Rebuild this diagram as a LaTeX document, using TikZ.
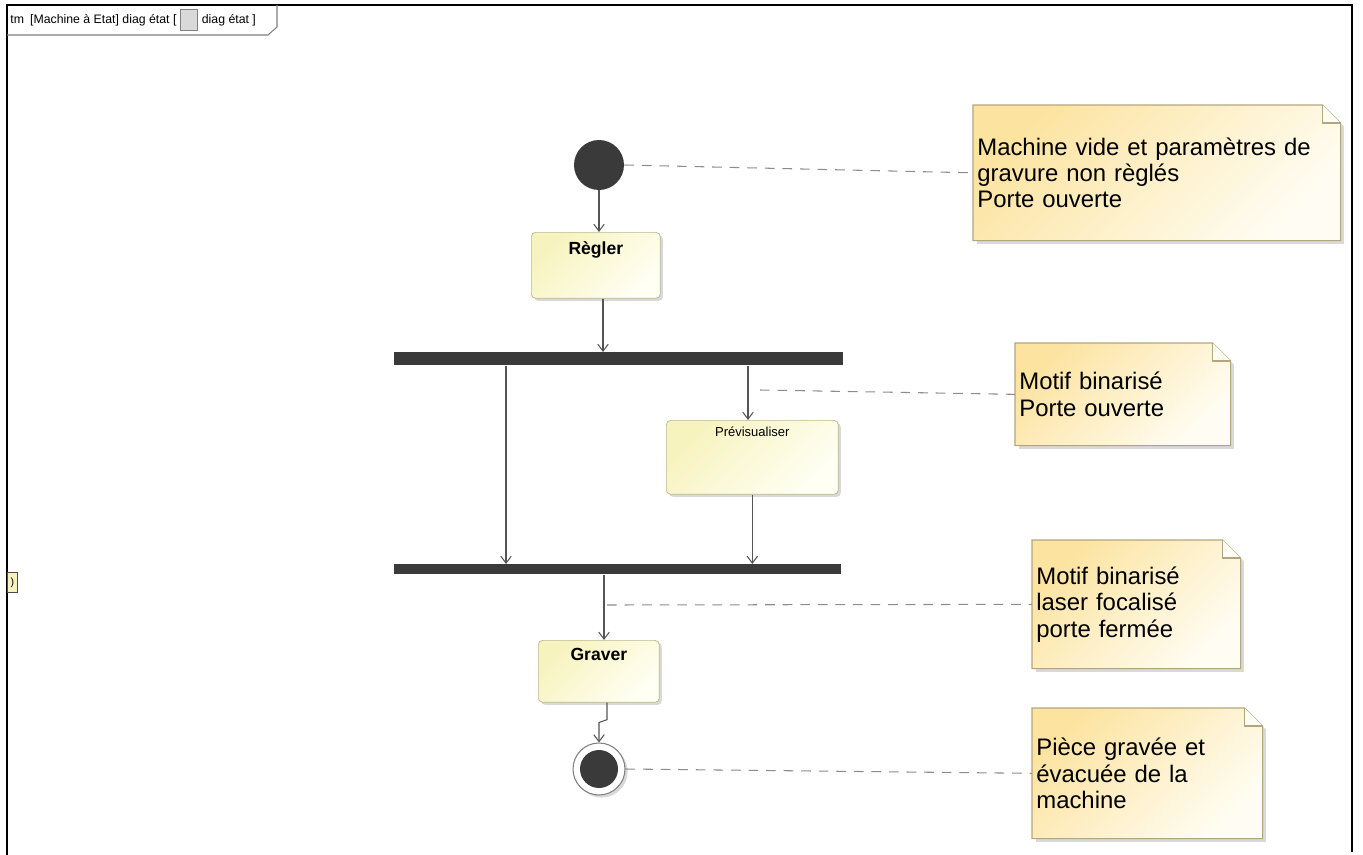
\documentclass[tikz,border=0pt]{standalone}
\usepackage{fontspec}
\setmainfont{Liberation Sans}
\usetikzlibrary{positioning,arrows.meta,shadows,calc}

\definecolor{bardark}{HTML}{3A3A3A}
\definecolor{edgegray}{HTML}{555555}
\definecolor{linkgray}{HTML}{8C8C8C}
\definecolor{stateA}{HTML}{F7F3BE}
\definecolor{stateB}{HTML}{FFFFF4}
\definecolor{stateline}{HTML}{B8B88C}
\definecolor{noteA}{HTML}{FCE3A0}
\definecolor{noteB}{HTML}{FFFDF3}
\definecolor{noteline}{HTML}{B3A67E}

\tikzset{
  statebox/.style={anchor=north west,draw=stateline,rounded corners=2.5pt,inner sep=0pt,
    top color=stateA,bottom color=stateB,shading angle=45,
    drop shadow={shadow xshift=1.5pt,shadow yshift=-1.5pt,opacity=0.3}},
  statelabel/.style={anchor=north,inner sep=0pt,font=\bfseries\fontsize{10}{12}\selectfont},
  barnode/.style={anchor=north west,fill=bardark,inner sep=0pt},
  notebox/.style={anchor=north west,inner xsep=0.08cm,inner ysep=0pt,align=left,
    top color=noteA,bottom color=noteB,shading angle=45,
    font=\fontsize{13.6}{15}\selectfont,
    drop shadow={shadow xshift=2pt,shadow yshift=-2pt,opacity=0.3}},
  flow/.style={draw=edgegray,line width=0.6pt,-{Straight Barb[length=4pt,width=6pt]}},
  notelink/.style={draw=linkgray,line width=0.6pt,dash pattern=on 5.5pt off 4.5pt}
}

\begin{document}
\begin{tikzpicture}[x=0.02cm,y=-0.02cm]
  \useasboundingbox (0,0) rectangle (1363,855);
  %% frame and header tab
  \draw[line width=1.6pt] (7,855) -- (7,5) -- (1352,5) -- (1352,852);
  \draw[draw=gray,line width=0.6pt] (7,35) -- (268,35) -- (277,27) -- (277,5);
  \node[anchor=west,inner sep=0pt,font=\fontsize{7}{8}\selectfont] (hdrA) at (10,20) {tm\enspace[Machine à Etat] diag état [};
  \node[right=2pt of hdrA,draw=gray,fill=gray!30,minimum width=0.34cm,minimum height=0.42cm,inner sep=0pt] (hdricon) {};
  \node[right=2pt of hdricon,inner sep=0pt,font=\fontsize{7}{8}\selectfont] (hdrB) {diag état ]};
  \node[anchor=north west,draw=black!70,fill=stateA,minimum width=0.2cm,minimum height=0.4cm,inner sep=0pt,font=\fontsize{6}{6}\selectfont] (stub) at (7,572) {)};

  %% states
  \node[circle,fill=bardark,minimum size=1cm,inner sep=0pt] (init) at (599,165) {};
  \node[statebox,minimum width=2.58cm,minimum height=1.32cm] (regler) at (531,232) {};
  \node[statelabel] (reglerlbl) at ([yshift=-5.5pt]regler.north) {Règler};
  \node[barnode,minimum width=8.98cm,minimum height=0.26cm] (fork) at (394,352) {};
  \node[statebox,minimum width=3.44cm,minimum height=1.48cm] (prev) at (666,420) {};
  \node[anchor=north,inner sep=0pt,font=\fontsize{7.4}{9}\selectfont] (prevlbl) at ([yshift=-3.5pt]prev.north) {Prévisualiser};
  \node[barnode,minimum width=8.94cm,minimum height=0.2cm] (join) at (394,564) {};
  \node[statebox,minimum width=2.42cm,minimum height=1.24cm] (graver) at (538,640) {};
  \node[statelabel] (graverlbl) at ([yshift=-4.5pt]graver.north) {Graver};
  \node[circle,draw=gray,line width=0.6pt,fill=white,minimum size=1.04cm,inner sep=0pt,
    drop shadow={shadow xshift=1.5pt,shadow yshift=-1.5pt,opacity=0.3}] (final) at (599,769) {};
  \node[circle,fill=bardark,minimum size=0.76cm,inner sep=0pt] (finalin) at (final.center) {};

  %% lanes
  \coordinate (lane1) at (603,0);
  \coordinate (lbranch) at (506,0);
  \coordinate (rbranch) at (748,0);
  \coordinate (lane2) at (604,0);
  \coordinate (lane3) at (607,0);

  %% transitions
  \draw[flow] (init.south) -- (init.south |- regler.north);
  \draw[flow] (regler.south -| lane1) -- (fork.north -| lane1);
  \draw[flow] (fork.south -| lbranch) -- (join.north -| lbranch);
  \draw[flow] (fork.south -| rbranch) -- (prev.north -| rbranch);
  \draw[flow] (prev.south) -- (prev.south |- join.north);
  \draw[flow] (join.south -| lane2) -- (graver.north -| lane2);
  \draw[flow] (graver.south -| lane3) -- ++(0,17) -- ($(final.north)+(0,-20)$) -- (final.north);

  %% notes
  \node[notebox,minimum width=7.34cm,minimum height=2.7cm,text width=7.18cm] (note1) at (973,105)
    {Machine vide et paramètres de\\gravure non règlés\\Porte ouverte};
  \node[notebox,minimum width=4.3cm,minimum height=2.04cm,text width=4.14cm] (note2) at (1015,343)
    {Motif binarisé\\Porte ouverte};
  \node[notebox,minimum width=4.16cm,minimum height=2.56cm,text width=4cm] (note3) at (1032,540)
    {Motif binarisé\\laser focalisé\\porte fermée};
  \node[notebox,minimum width=4.6cm,minimum height=2.6cm,text width=4.44cm] (note4) at (1032,708)
    {Pièce gravée et\\évacuée de la\\machine};
  \foreach \n in {note1,note2,note3,note4}{
    \fill[white] ($(\n.north east)+(-19,-1)$) -- ($(\n.north east)+(8,-1)$) -- ($(\n.north east)+(8,26)$) -- cycle;
    \draw[noteline,line width=0.6pt] (\n.north west) -- ($(\n.north east)+(-18,0)$) -- ($(\n.north east)+(0,18)$)
      -- (\n.south east) -- (\n.south west) -- cycle;
    \filldraw[draw=noteline,fill=noteB,line width=0.6pt] ($(\n.north east)+(-18,0)$) -- ($(\n.north east)+(-18,18)$)
      -- ($(\n.north east)+(0,18)$);
  }

  %% note links
  \coordinate (n2src) at (760,390);
  \coordinate (n3src) at (607,605);
  \draw[notelink] (init.east) -- (note1.west);
  \draw[notelink] (n2src) -- (note2.west);
  \draw[notelink] (n3src) -- (note3.west);
  \draw[notelink] (final.east) -- (note4.west);
\end{tikzpicture}
\end{document}
